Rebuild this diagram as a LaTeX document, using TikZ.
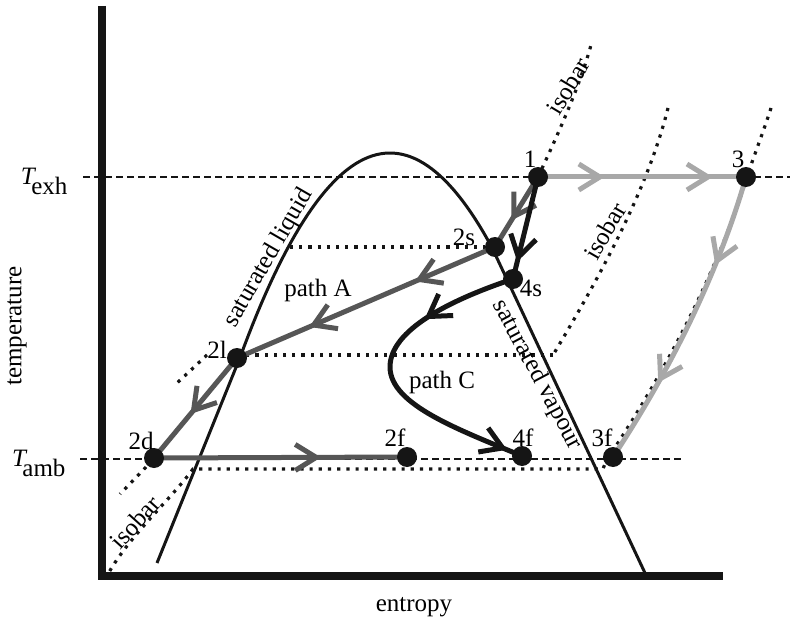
\documentclass[tikz,border=0pt]{standalone}
\usepackage{fontspec}
\setmainfont{Liberation Serif}
\usetikzlibrary{arrows.meta,decorations.markings}
\definecolor{ink}{HTML}{151515}
\definecolor{gA}{HTML}{565656}
\definecolor{gB}{HTML}{A8A8A8}
\begin{document}
\begin{tikzpicture}[x=1pt,y=-1pt,
  font=\fontsize{25}{29}\selectfont,
  axis/.style={line width=8pt,draw=ink},
  dashln/.style={line width=2pt,dash pattern=on 7pt off 4pt,draw=ink},
  dotln/.style={line width=3.2pt,dash pattern=on 3.2pt off 6pt,draw=ink},
  dome/.style={line width=3pt,draw=ink},
  pathA/.style={line width=5pt,draw=gA},
  pathB/.style={line width=5pt,draw=gB},
  pathC/.style={line width=5pt,draw=ink},
  arr/.style={postaction={decorate,decoration={markings,mark=at position #1 with {\arrow{Straight Barb[length=21pt,width=26pt]}}}}},
  dot/.style={circle,fill=ink,minimum size=20pt,inner sep=0pt},
]
\useasboundingbox (0,0) rectangle (790,623);
% state points
\coordinate (p1) at (538,177);
\coordinate (p3) at (746,177);
\coordinate (p2s) at (495,247);
\coordinate (p4s) at (513,279);
\coordinate (p2l) at (237,358);
\coordinate (p2d) at (154,458);
\coordinate (p2f) at (407,457);
\coordinate (p4f) at (522,456);
\coordinate (p3f) at (613,457);
% axes
\coordinate (ytop) at (101.5,6);
\coordinate (orig) at (101.5,576);
\coordinate (xend) at (723,576);
\draw[axis] (ytop) -- (orig) -- (xend);
% dashed temperature levels
\coordinate (exhL) at (83,177);
\coordinate (exhR) at (790,177);
\coordinate (ambL) at (80,459);
\coordinate (ambR) at (682,459);
\draw[dashln] (exhL) -- (exhR);
\draw[dashln] (ambL) -- (ambR);
% isobars
\draw[dotln] (290,247) -- (485,247);
\draw[dotln] (553,355) -- (245,355);
\draw[dotln] (207,355) -- (176,384);
\draw[dotln] (668,108) .. controls (650,180) and (610,260) .. (553,355);
\draw[dotln] (p1) .. controls (560,130) and (580,85) .. (591,45);
\draw[dotln] (771,108) .. controls (763,133) and (753,158) .. (746,180)
   .. controls (726,243) and (685,343) .. (606,461) -- (603,469) -- (193,469)
   .. controls (172,498) and (130,535) .. (108,574);
\draw[dotln] (146,467) -- (120,494);
\node[rotate=59] (ib1) at (568,86) {isobar};
\node[rotate=60] (ib2) at (605,231) {isobar};
\node[rotate=48] (ib3) at (135,522) {isobar};
% saturation dome
\draw[dome] (157,563) -- (240,357.5) -- plot[domain=240:492,samples=60] (\x,{153+((\x-390)/10)^2/1.1}) -- (645,573);
% paths
\draw[pathB,arr=0.32,arr=0.84] (p1) -- (p3);
\draw[pathB,arr=0.30,arr=0.72] (p3) .. controls (728,240) and (690,340) .. (p3f);
\draw[pathA,arr=0.62] (p1) -- (p2s);
\draw[pathA,arr=0.31,arr=0.72] (p2s) -- (p2l);
\draw[pathA,arr=0.56] (p2l) -- (p2d);
\draw[pathA,arr=0.66] (p2d) -- (p2f);
\draw[pathC,arr=0.83] (p1) -- (p4s);
\draw[pathC,arr=0.30,arr=0.95] (p4s) .. controls (450,300) and (390,330) .. (390,367) .. controls (390,405) and (460,430) .. (p4f);
% dots
\foreach \p in {p1,p3,p2s,p4s,p2l,p2d,p2f,p4f,p3f}{\node[dot] (d\p) at (\p) {};}
% labels
\node (l1) at (530,159) {1};
\node (l3) at (738,159) {3};
\node (l2s) at (464,237) {2s};
\node (l4s) at (531,288) {4s};
\node (l2l) at (217,350) {2l};
\node (l2d) at (141,441) {2d};
\node (l2f) at (395,438) {2f};
\node (l4f) at (523,438) {4f};
\node (l3f) at (602,438) {3f};
\node (pA) at (318,290) {path A};
\node (pC) at (442,382) {path C};
\node[rotate=60] (sl) at (269,258) {saturated liquid};
\node[rotate=-62] (sv) at (537,375) {saturated vapour};
\node[rotate=90] (ty) at (17,326) {temperature};
\node (en) at (414,607) {entropy};
\node[anchor=east] (te) at (71,181) {\textit{T}\kern-0.2em\raisebox{-0.4em}{exh}};
\node[anchor=east] (ta) at (69,463) {\textit{T}\kern-0.2em\raisebox{-0.4em}{amb}};
\end{tikzpicture}
\end{document}
